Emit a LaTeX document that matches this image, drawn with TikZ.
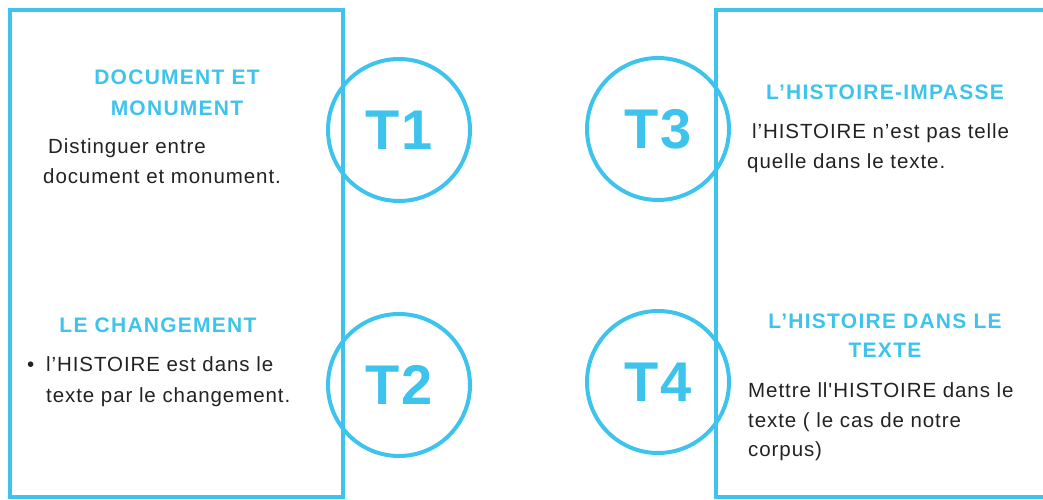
\documentclass[tikz,border=0pt]{standalone}
\usepackage{fontspec}
\setmainfont{Liberation Sans}
\newfontfamily\ttlfont[LetterSpace=6]{Liberation Sans}
\newfontfamily\bdyfont[LetterSpace=4.5]{Liberation Sans}
\newfontfamily\bigfont[LetterSpace=4]{Liberation Sans}
\definecolor{tblue}{RGB}{62,196,236}
\definecolor{ttext}{RGB}{34,34,34}
\begin{document}
\begin{tikzpicture}[x=1pt,y=-1pt,
  frame/.style={draw=tblue,line width=4pt},
  ring/.style={draw=tblue,line width=4pt,circle,minimum size=142pt,inner sep=0pt,
    font=\bigfont\fontsize{56}{56}\selectfont\bfseries,text=tblue},
  title/.style={anchor=base,text=tblue,font=\ttlfont\fontsize{21}{21}\selectfont\bfseries,inner sep=0pt},
  body/.style={anchor=base west,text=ttext,font=\bdyfont\fontsize{20.5}{20.5}\selectfont,inner sep=0pt}]
\useasboundingbox (0,0) rectangle (1043,500);
\draw[frame] (10,10) rectangle (343,497);
\draw[frame] (716,10) rectangle (1060,497);
\node[ring] (t1) at (399,130) {T1};
\node[ring] (t2) at (399,385) {T2};
\node[ring] (t3) at (658,129) {T3};
\node[ring] (t4) at (658,382) {T4};
% T1
\node[title] (h1a) at (177,85) {DOCUMENT ET};
\node[title] (h1b) at (177,115) {MONUMENT};
\node[body] (b1a) at (48,153) {Distinguer entre};
\node[body] (b1b) at (43,183) {document et monument.};
% T2
\node[title] (h2) at (158,332) {LE CHANGEMENT};
\node[body] (bul) at (27,371) {•};
\node[body] (b2a) at (46,371) {l’HISTOIRE est dans le};
\node[body] (b2b) at (46,402) {texte par le changement.};
% T3
\node[title] (h3) at (885,100) {L’HISTOIRE-IMPASSE};
\node[body] (b3a) at (752,138) {l’HISTOIRE n’est pas telle};
\node[body] (b3b) at (747,168) {quelle dans le texte.};
% T4
\node[title] (h4a) at (885,328) {L’HISTOIRE DANS LE};
\node[title] (h4b) at (885,357) {TEXTE};
\node[body] (b4a) at (748,397) {Mettre ll'HISTOIRE dans le};
\node[body] (b4b) at (748,427) {texte ( le cas de notre};
\node[body] (b4c) at (748,456) {corpus)};
\end{tikzpicture}
\end{document}
